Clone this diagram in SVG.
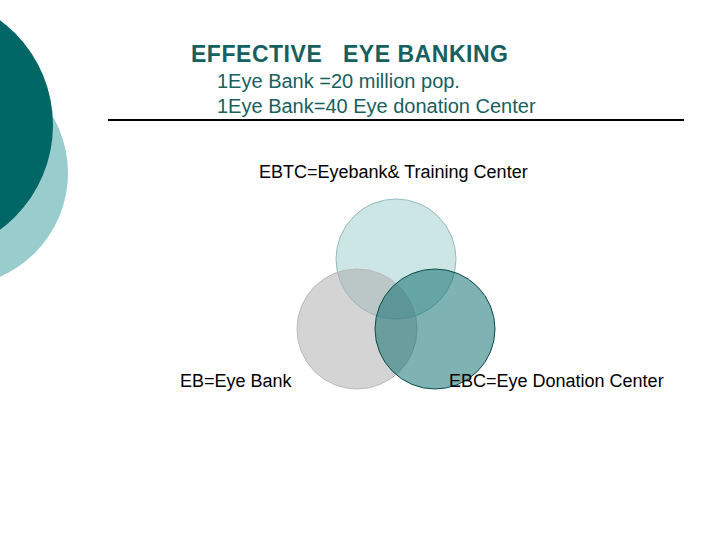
<svg xmlns="http://www.w3.org/2000/svg" width="720" height="540" viewBox="0 0 720 540">
<style>
.t{font-family:"Liberation Sans",Arial,sans-serif;fill:#176060}
.l{font-family:"Liberation Sans",Arial,sans-serif;fill:#000;font-size:18px}
</style>
<rect width="720" height="540" fill="#fff"/>
<g id="decor">
<circle cx="-45" cy="173" r="113" fill="#99cccc"/>
<circle cx="-77" cy="125" r="130" fill="#006666"/>
</g>
<g id="title">
<text class="t" x="191" y="62" font-size="23" font-weight="bold" textLength="317" xml:space="preserve" style="white-space:pre">EFFECTIVE   EYE BANKING</text>
<text class="t" x="217" y="88" font-size="20">1Eye Bank =20 million pop.</text>
<text class="t" x="217" y="113" font-size="20">1Eye Bank=40 Eye donation Center</text>
</g>
<g id="connectors">
<line x1="108" y1="120" x2="684" y2="120" stroke="#000" stroke-width="2"/>
</g>
<g id="EBTC">
<circle cx="396" cy="259" r="60" fill="#99cccc" fill-opacity="0.5" stroke="#99bbbb" stroke-width="1"/>
<text class="l" x="259" y="178">EBTC=Eyebank&amp; Training Center</text>
</g>
<g id="EB">
<circle cx="357" cy="329" r="60" fill="#aaaaaa" fill-opacity="0.5" stroke="#bbbbbb" stroke-width="1"/>
<text class="l" x="180" y="387">EB=Eye Bank</text>
</g>
<g id="EBC">
<circle cx="435" cy="329" r="60" fill="#006666" fill-opacity="0.5" stroke="#0d4d4d" stroke-width="1"/>
<text class="l" x="449" y="387">EBC=Eye Donation Center</text>
</g>
</svg>
